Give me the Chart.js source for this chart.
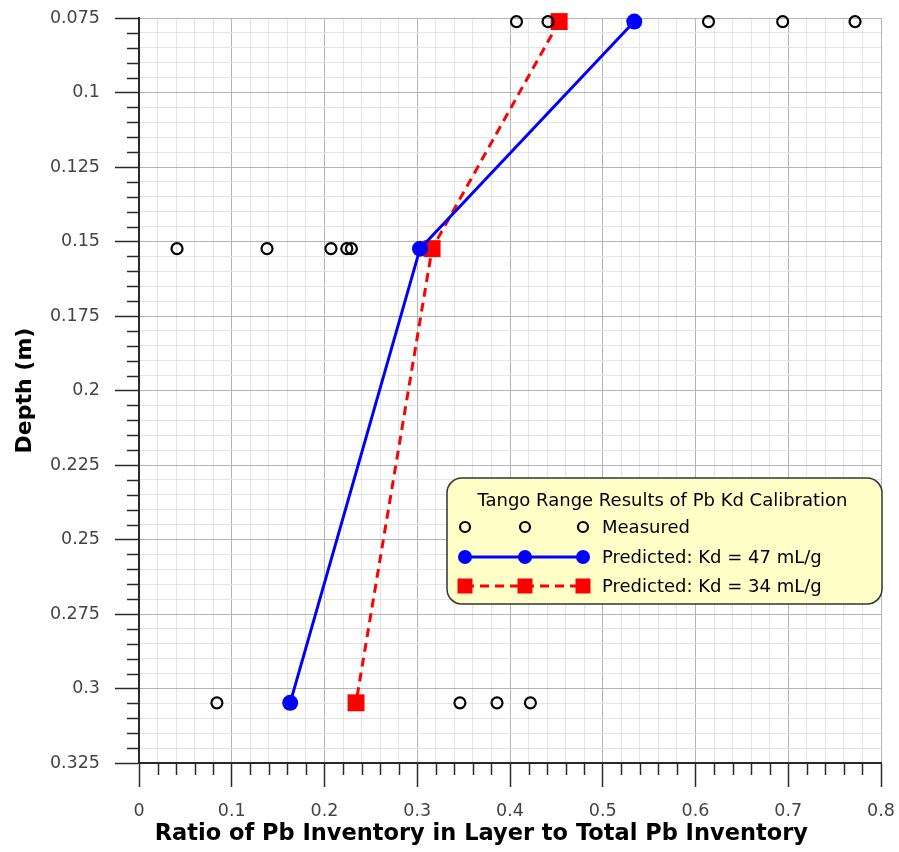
<!DOCTYPE html>
<html>
<head>
<meta charset="utf-8">
<title>Pb Kd Calibration</title>
<script src="https://cdn.jsdelivr.net/npm/chart.js@4.4.1/dist/chart.umd.min.js"></script>
<style>
  body { margin: 0; background: #fff; }
  #wrap { width: 899px; height: 852px; }
</style>
</head>
<body>
<div id="wrap"><canvas id="myChart" width="899" height="852"></canvas></div>
<script>
// depths in metres (3, 6 and 12 inch layers)
const depths = [0.0762, 0.1524, 0.3048];

// measured ratios, one list per depth
const measured3in = [0.407, 0.441, 0.614, 0.694, 0.772];
const measured6in = [0.041, 0.138, 0.207, 0.224, 0.229];
const measured12in = [0.084, 0.346, 0.386, 0.422];

// predicted ratios
const predicted47 = [0.534, 0.303, 0.163];
const predicted34 = [0.453, 0.316, 0.234];

// tick labels
const xTickLabels = ['0', '0.1', '0.2', '0.3', '0.4', '0.5', '0.6', '0.7', '0.8'];
const yTickLabels = ['0.075', '0.1', '0.125', '0.15', '0.175', '0.2', '0.225', '0.25', '0.275', '0.3', '0.325'];

const seriesNames = ['Measured', 'Predicted: Kd = 47 mL/g', 'Predicted: Kd = 34 mL/g'];
const legendTitle = 'Tango Range Results of Pb Kd Calibration';

let measuredPts = [];
measured3in.forEach(v => measuredPts.push({ x: v, y: depths[0] }));
measured6in.forEach(v => measuredPts.push({ x: v, y: depths[1] }));
measured12in.forEach(v => measuredPts.push({ x: v, y: depths[2] }));

const pts47 = predicted47.map((v, i) => ({ x: v, y: depths[i] }));
const pts34 = predicted34.map((v, i) => ({ x: v, y: depths[i] }));

function findLabel(list, value) {
    for (let i = 0; i < list.length; i++) {
        if (Math.abs(parseFloat(list[i]) - value) < 1e-6) return list[i];
    }
    return '';
}

const FONT = '"DejaVu Sans", Verdana, sans-serif';
const MAJOR = '#b4b4b4';
const MINOR = '#e4e4e4';
const AXIS = '#2a2a2a';

// short tick marks for the minor ticks
const minorTicks = {
    id: 'minorTicks',
    afterDraw(chart) {
        const ctx = chart.ctx;
        const xs = chart.scales.x, ys = chart.scales.y;
        ctx.save();
        ctx.strokeStyle = AXIS;
        ctx.lineWidth = 1.5;
        ctx.beginPath();
        xs.ticks.forEach(t => {
            if (findLabel(xTickLabels, t.value) !== '') return;
            const px = Math.round(xs.getPixelForValue(t.value)) + 0.5;
            ctx.moveTo(px, ys.bottom);
            ctx.lineTo(px, ys.bottom + 12);
        });
        ys.ticks.forEach(t => {
            if (findLabel(yTickLabels, t.value) !== '') return;
            const py = Math.round(ys.getPixelForValue(t.value)) + 0.5;
            ctx.moveTo(xs.left, py);
            ctx.lineTo(xs.left - 12, py);
        });
        ctx.stroke();
        ctx.restore();
    }
};

// boxed legend with three markers per row
const boxLegend = {
    id: 'boxLegend',
    afterDatasetsDraw(chart) {
        const ctx = chart.ctx;
        const ds = chart.data.datasets;
        const bx = 447, by = 478, bw = 435, bh = 126;
        ctx.save();
        ctx.beginPath();
        ctx.roundRect(bx, by, bw, bh, 15);
        ctx.fillStyle = '#ffffc8';
        ctx.fill();
        ctx.lineWidth = 1.5;
        ctx.strokeStyle = '#333';
        ctx.stroke();

        ctx.fillStyle = '#000';
        ctx.font = '18px ' + FONT;
        ctx.textBaseline = 'middle';
        ctx.textAlign = 'center';
        ctx.fillText(legendTitle, bx + bw / 2 - 2, 501);

        const mx = [465, 525, 583];
        const rows = [527, 557, 586];
        ctx.textAlign = 'left';
        ds.forEach((d, k) => {
            const y = rows[k];
            if (d.showLine) {
                ctx.beginPath();
                ctx.setLineDash(d.borderDash || []);
                ctx.lineWidth = d.borderWidth;
                ctx.strokeStyle = d.borderColor;
                ctx.moveTo(mx[0], y);
                ctx.lineTo(mx[2], y);
                ctx.stroke();
                ctx.setLineDash([]);
            }
            mx.forEach(x => {
                ctx.beginPath();
                if (d.pointStyle === 'rect') {
                    ctx.fillStyle = d.pointBackgroundColor;
                    ctx.fillRect(x - 7.5, y - 7.5, 15, 15);
                } else {
                    const r = k === 0 ? 5 : 7;
                    ctx.arc(x, y, r, 0, Math.PI * 2);
                    if (k === 0) {
                        ctx.lineWidth = 2.2;
                        ctx.strokeStyle = d.pointBorderColor;
                        ctx.stroke();
                    } else {
                        ctx.fillStyle = d.pointBackgroundColor;
                        ctx.fill();
                    }
                }
            });
            ctx.fillStyle = '#000';
            ctx.fillText(d.label, 602, y + 1);
        });
        ctx.restore();
    }
};

Chart.defaults.font.family = FONT;
Chart.defaults.color = '#444';

const ctx = document.getElementById('myChart').getContext('2d');
const myChart = new Chart(ctx, {
    type: 'scatter',
    data: {
        datasets: [{
            label: seriesNames[0],
            data: measuredPts,
            showLine: false,
            pointStyle: 'circle',
            pointRadius: 5.5,
            pointBorderWidth: 2.2,
            pointBorderColor: '#000',
            pointBackgroundColor: 'rgba(0,0,0,0)',
            clip: false
        }, {
            label: seriesNames[1],
            data: pts47,
            showLine: true,
            borderColor: '#0000ff',
            borderWidth: 3,
            pointStyle: 'circle',
            pointRadius: 8,
            pointBorderWidth: 0,
            pointBackgroundColor: '#0000ff',
            pointBorderColor: '#0000ff',
            clip: false
        }, {
            label: seriesNames[2],
            data: pts34,
            showLine: true,
            borderColor: '#ff0000',
            borderWidth: 3,
            borderDash: [9, 6],
            pointStyle: 'rect',
            pointRadius: 12,
            pointBorderWidth: 0,
            pointBackgroundColor: '#ff0000',
            pointBorderColor: '#ff0000',
            clip: false
        }]
    },
    options: {
        responsive: false,
        animation: false,
        layout: { padding: { top: 18, right: 18, left: 0, bottom: 0 } },
        plugins: {
            legend: { display: false },
            tooltip: { enabled: false }
        },
        scales: {
            x: {
                type: 'linear',
                min: 0,
                max: 0.8,
                afterFit(scale) {
                    scale.height = 89;
                    scale.paddingLeft = 0;
                    scale.paddingRight = 0;
                },
                ticks: {
                    stepSize: 0.02,
                    autoSkip: false,
                    maxRotation: 0,
                    padding: 14,
                    color: '#444',
                    font: { size: 17.5 },
                    callback: v => findLabel(xTickLabels, v)
                },
                grid: {
                    drawTicks: true,
                    tickLength: 24,
                    tickWidth: 1.5,
                    color: c => findLabel(xTickLabels, c.tick.value) !== '' ? MAJOR : MINOR,
                    tickColor: c => findLabel(xTickLabels, c.tick.value) !== '' ? AXIS : 'rgba(0,0,0,0)'
                },
                border: { display: true, color: AXIS, width: 2 },
                title: {
                    display: true,
                    align: 'start',
                    text: '  Ratio of Pb Inventory in Layer to Total Pb Inventory',
                    color: '#000',
                    font: { size: 22.5, weight: 'bold' },
                    padding: { top: 0, bottom: 4 }
                }
            },
            y: {
                type: 'linear',
                reverse: true,
                min: 0.075,
                max: 0.325,
                afterFit(scale) {
                    scale.width = 139;
                    scale.paddingTop = 0;
                    scale.paddingBottom = 0;
                },
                ticks: {
                    stepSize: 0.005,
                    autoSkip: false,
                    padding: 15,
                    color: '#444',
                    font: { size: 17.5 },
                    callback: v => findLabel(yTickLabels, v)
                },
                grid: {
                    drawTicks: true,
                    tickLength: 24,
                    tickWidth: 1.5,
                    color: c => findLabel(yTickLabels, c.tick.value) !== '' ? MAJOR : MINOR,
                    tickColor: c => findLabel(yTickLabels, c.tick.value) !== '' ? AXIS : 'rgba(0,0,0,0)'
                },
                border: { display: true, color: AXIS, width: 2 },
                title: {
                    display: true,
                    text: 'Depth (m)',
                    color: '#000',
                    font: { size: 22, weight: 'bold' },
                    padding: { top: 12, bottom: 0 }
                }
            }
        }
    },
    plugins: [minorTicks, boxLegend]
});
</script>
</body>
</html>
